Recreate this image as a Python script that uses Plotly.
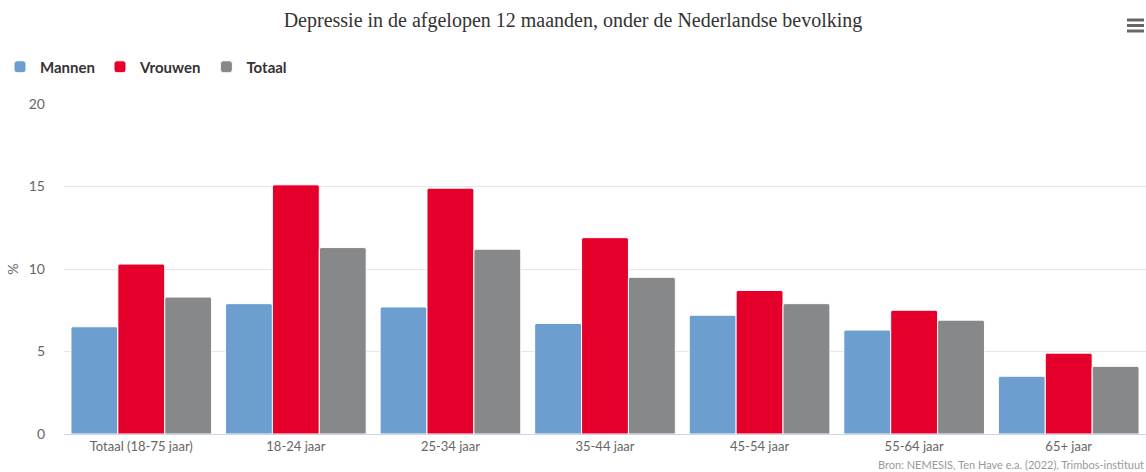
import plotly.graph_objects as go

categories = ["Totaal (18-75 jaar)", "18-24 jaar", "25-34 jaar", "35-44 jaar",
              "45-54 jaar", "55-64 jaar", "65+ jaar"]
mannen = [6.5, 7.9, 7.7, 6.7, 7.2, 6.3, 3.5]
vrouwen = [10.3, 15.1, 14.9, 11.9, 8.7, 7.5, 4.9]
totaal = [8.3, 11.3, 11.2, 9.5, 7.9, 6.9, 4.1]
y_ticks = [0, 5, 10, 15, 20]

series = [("Mannen", mannen, "#6c9ecf"), ("Vrouwen", vrouwen, "#e4002b"), ("Totaal", totaal, "#87888a")]

fig = go.Figure()
for name, vals, col in series:
    fig.add_trace(go.Bar(
        x=categories, y=vals, name=name,
        marker=dict(color=col, line=dict(color="white", width=1), cornerradius=2),
        hovertemplate="%{x}<br>" + name + ": %{y}%<extra></extra>",
    ))

W, H = 1146, 472
ml, mr, mt, mb = 64, 0, 104, 38

fig.update_layout(
    width=W, height=H,
    margin=dict(l=ml, r=mr, t=mt, b=mb),
    paper_bgcolor="white", plot_bgcolor="white",
    barmode="group", bargap=0.09, bargroupgap=0.0,
    font=dict(family="Lato, 'Open Sans', sans-serif", color="#666666", size=13),
    title=dict(text="Depressie in de afgelopen 12 maanden, onder de Nederlandse bevolking",
               font=dict(family="Liberation Serif, serif", size=20, color="#333333"),
               x=0.5, xanchor="center", xref="container",
               y=1 - 20 / H, yanchor="middle", yref="container"),
    legend=dict(orientation="h", x=-0.004, xref="container", xanchor="left",
                y=1 - 67 / H, yref="container", yanchor="middle",
                font=dict(family="Lato, sans-serif", size=15, color="#333333", weight="bold"),
                itemclick=False, itemdoubleclick=False, traceorder="normal"),
    xaxis=dict(showgrid=False, showline=True, linecolor="#ccd6eb", linewidth=1,
               ticks="", tickfont=dict(size=13, color="#666666"), fixedrange=True),
    yaxis=dict(range=[0, 20], tickvals=y_ticks, showgrid=True, gridcolor="#e6e6e6",
               zeroline=False, ticks="", tickfont=dict(size=14, color="#666666"),
               ticklabelstandoff=18,
               title=dict(text="%", font=dict(size=14, color="#666666"), standoff=6),
               fixedrange=True),
    showlegend=True,
)

# credits
fig.add_annotation(text="Bron: NEMESIS, Ten Have e.a. (2022), Trimbos-instituut",
                   xref="paper", yref="paper", x=1.0, xanchor="right",
                   y=(434 - 464) / 330, yanchor="middle", showarrow=False,
                   font=dict(size=11, color="#999999"))

# hamburger menu icon
for py in (20, 25.5, 31):
    yy = (434 - py) / 330
    fig.add_shape(type="line", xref="paper", yref="paper",
                  x0=(1127 - ml) / 1082, x1=(1144 - ml) / 1082, y0=yy, y1=yy,
                  line=dict(color="#666666", width=3))

fig.write_html("out.html", config={"displayModeBar": False})
